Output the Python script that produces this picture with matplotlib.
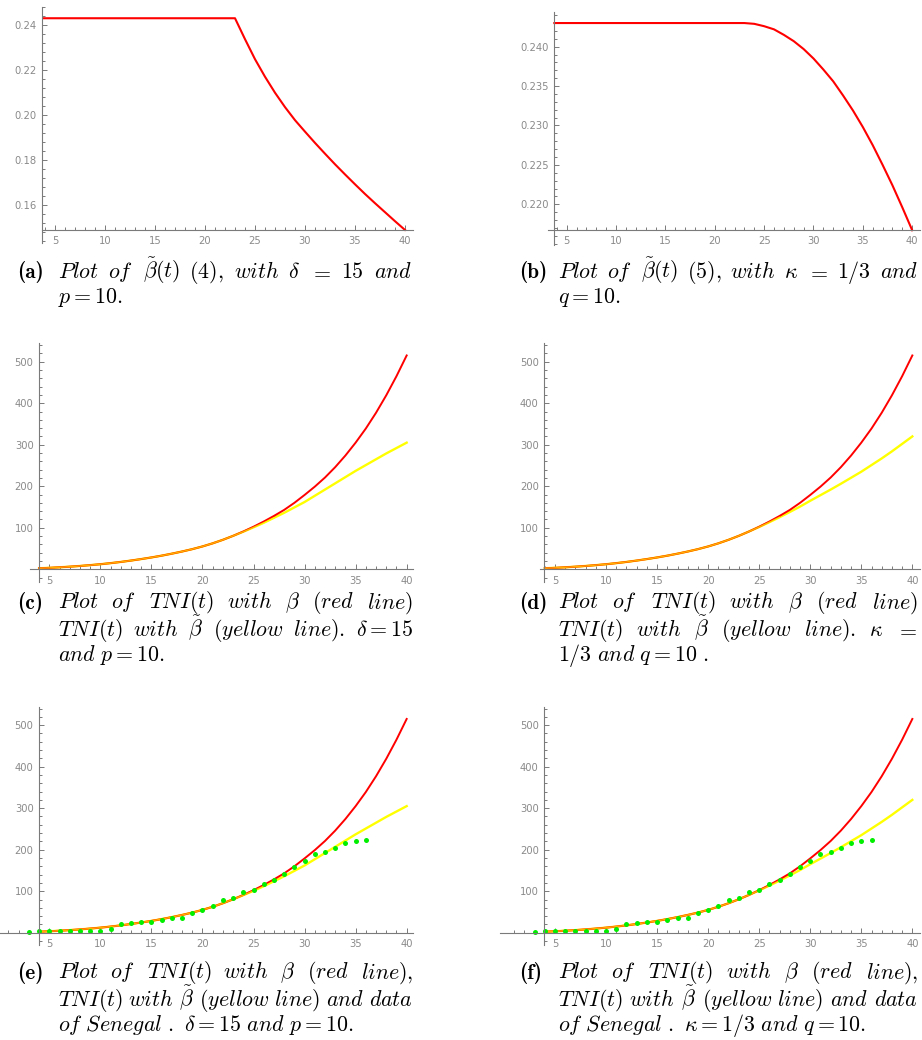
import numpy as np
import matplotlib
matplotlib.use('Agg')
import matplotlib.pyplot as plt
from matplotlib.ticker import FixedLocator, FormatStrFormatter

plt.rcParams['mathtext.fontset'] = 'cm'
plt.rcParams['font.family'] = ['DejaVu Sans']

W, H = 922, 1040

# ---------------- data ----------------
# beta tilde, panel (a): delta = 15, p = 10
t_beta = [3.75, 23, 24, 25, 26, 27, 28, 29, 30, 31, 32, 33, 34, 35, 36, 37, 38, 39, 40]
beta_a = [0.2430, 0.2430, 0.2337, 0.2248, 0.2170, 0.2099, 0.2035, 0.1977, 0.1926,
          0.1876, 0.1828, 0.1781, 0.1736, 0.1692, 0.1649, 0.1608, 0.1568, 0.1528, 0.1489]
# beta tilde, panel (b): kappa = 1/3, q = 10
beta_b = [0.2430, 0.2430, 0.2429, 0.2426, 0.2422, 0.2415, 0.2407, 0.2397, 0.2385,
          0.2371, 0.2356, 0.2338, 0.2319, 0.2298, 0.2275, 0.2250, 0.2224, 0.2196, 0.2167]

# TNI(t) curves
t_tni = [4, 5, 6, 7, 8, 9, 10, 11, 12, 13, 14, 15, 16, 17, 18, 19, 20, 21, 22,
         23, 24, 25, 26, 27, 28, 29, 30, 31, 32, 33, 34, 35, 36, 37, 38, 39, 40]
tni_red = [2.5, 3.5, 4.8, 6.3, 8.0, 10.0, 12.2, 14.8, 17.7, 21.0, 24.6, 28.5, 32.8,
           37.6, 42.8, 48.5, 55, 62.5, 71, 80.5, 91, 102.5, 115, 128.5, 143, 160,
           179, 199, 221, 246, 274, 305, 339, 377, 419, 465, 515]
tni_yellow_delta = [2.5, 3.5, 4.8, 6.3, 8.0, 10.0, 12.2, 14.8, 17.7, 21.0, 24.6, 28.5,
                    32.8, 37.6, 42.8, 48.5, 55, 62.5, 71, 80.5, 90.5, 101, 112, 124,
                    136, 149, 162, 177, 192, 207, 222, 237, 251, 265, 279, 292, 305]
tni_yellow_kappa = [2.5, 3.5, 4.8, 6.3, 8.0, 10.0, 12.2, 14.8, 17.7, 21.0, 24.6, 28.5,
                    32.8, 37.6, 42.8, 48.5, 55, 62.5, 71, 80.5, 91, 102, 113.5, 125.5,
                    138, 151, 165, 178.5, 192, 206, 220.5, 235, 251, 267, 284, 302, 320]

# data of Senegal
t_data = [3, 4, 5, 6, 7, 8, 9, 10, 11, 12, 13, 14, 15, 16, 17, 18, 19, 20, 21,
          22, 23, 24, 25, 26, 27, 28, 29, 30, 31, 32, 33, 34, 35, 36]
senegal = [1, 4, 4, 3, 3, 3, 3, 3, 9, 20, 23, 25, 25, 31, 35, 35, 47, 55, 65,
           79, 84, 97, 103, 117, 127, 141, 159, 173, 189, 194, 205, 215, 221, 223]

x_major = [5, 10, 15, 20, 25, 30, 35, 40]
yticks_a = [0.16, 0.18, 0.20, 0.22, 0.24]
yticks_b = [0.220, 0.225, 0.230, 0.235, 0.240]
yticks_tni = [100, 200, 300, 400, 500]

RED = '#ff0000'
YEL = '#ffff00'
GRN = '#00ee00'
AX = '#7a7a7a'
LAB = '#8a8a8a'

fig = plt.figure(figsize=(W / 100, H / 100), dpi=100)


def make_ax(L, R, T, B, xlim, ylim, yspine, xspine, yticks, ystep, fmt):
    ax = fig.add_axes([L / W, 1 - B / H, (R - L) / W, (B - T) / H])
    ax.set_xlim(*xlim)
    ax.set_ylim(*ylim)
    for s in ['top', 'right']:
        ax.spines[s].set_visible(False)
    ax.spines['left'].set_position(('data', yspine))
    ax.spines['bottom'].set_position(('data', xspine))
    for s in ['left', 'bottom']:
        ax.spines[s].set_color(AX)
        ax.spines[s].set_linewidth(0.8)
    ax.xaxis.set_major_locator(FixedLocator(x_major))
    xmin = [v for v in range(int(np.ceil(xlim[0])), 41) if v % 5 != 0]
    ax.xaxis.set_minor_locator(FixedLocator(xmin))
    ax.yaxis.set_major_locator(FixedLocator(yticks))
    k0 = int(np.ceil(ylim[0] / ystep - 1e-9))
    k1 = int(np.floor(ylim[1] / ystep + 1e-9))
    ymin = [k * ystep for k in range(k0, k1 + 1)]
    ax.yaxis.set_minor_locator(FixedLocator(ymin))
    ax.yaxis.set_major_formatter(FormatStrFormatter(fmt))
    ax.tick_params(which='both', direction='in', color=AX, width=0.7,
                   labelsize=7.2, labelcolor=LAB)
    ax.tick_params(which='major', length=3.6)
    ax.tick_params(which='minor', length=2.0)
    ax.tick_params(axis='y', pad=4)
    ax.tick_params(axis='x', pad=4.5)
    ax.patch.set_alpha(0)
    return ax


# (a)
ax = make_ax(41.7, 413, 6.7, 242.7, (3.67, 40.8), (0.14324, 0.24813), 3.73, 0.1489,
             yticks_a, 0.004, '%.2f')
ax.plot(t_beta, beta_a, color=RED, lw=1.5)
# (b)
ax = make_ax(548.3, 920, 11.7, 245, (3.136, 40.79), (0.21483, 0.24444), 3.744, 0.21674,
             yticks_b, 0.001, '%.3f')
ax.plot(t_beta, beta_b, color=RED, lw=1.5)
# (c)
ax = make_ax(30, 413, 343, 581.7, (3.11, 40.62), (-29.9, 545), 4.0, 0,
             yticks_tni, 20, '%d')
ax.plot(t_tni, tni_yellow_delta, color=YEL, lw=1.7)
ax.plot(t_tni, tni_red, color=RED, lw=1.4)
ax.plot(t_tni[:24], tni_yellow_delta[:24], color=YEL, lw=1.0, alpha=0.7)
# (d)
ax = make_ax(540, 920, 343, 581.7, (3.53, 40.75), (-29.9, 545), 3.95, 0,
             yticks_tni, 20, '%d')
ax.plot(t_tni, tni_yellow_kappa, color=YEL, lw=1.7)
ax.plot(t_tni, tni_red, color=RED, lw=1.4)
ax.plot(t_tni[:24], tni_yellow_kappa[:24], color=YEL, lw=1.0, alpha=0.7)
# (e)
ax = make_ax(0, 413, 706.5, 945, (0.17, 40.62), (-29.6, 545), 4.0, 0,
             yticks_tni, 20, '%d')
ax.plot(t_tni, tni_yellow_delta, color=YEL, lw=1.7)
ax.plot(t_tni, tni_red, color=RED, lw=1.4)
ax.plot(t_tni[:24], tni_yellow_delta[:24], color=YEL, lw=1.0, alpha=0.7)
ax.plot(t_data, senegal, 'o', color=GRN, ms=3.6, mec='none', clip_on=False)
# (f)
ax = make_ax(500, 920, 706.5, 945, (-0.39, 40.75), (-29.6, 545), 3.95, 0,
             yticks_tni, 20, '%d')
ax.plot(t_tni, tni_yellow_kappa, color=YEL, lw=1.7)
ax.plot(t_tni, tni_red, color=RED, lw=1.4)
ax.plot(t_tni[:24], tni_yellow_kappa[:24], color=YEL, lw=1.0, alpha=0.7)
ax.plot(t_data, senegal, 'o', color=GRN, ms=3.6, mec='none', clip_on=False)

# ---------------- captions ----------------
FS = 15.8
renderer = fig.canvas.get_renderer()


def place_line(tokens, x0, x1, y, justify=True):
    if isinstance(tokens, str):
        tokens = [tokens]
    texts = [fig.text(0, 0, tk, fontsize=FS, va='baseline', ha='left') for tk in tokens]
    widths = [t.get_window_extent(renderer=renderer).width for t in texts]
    if justify and len(tokens) > 1:
        gap = (x1 - x0 - sum(widths)) / (len(tokens) - 1)
    else:
        gap = FS * 0.33 * 100 / 72
    x = x0
    for t, w in zip(texts, widths):
        t.set_position((x / W, 1 - y / H))
        x += w + gap


def caption(label, lines, xl, x0, x1, ys):
    fig.text(xl / W, 1 - ys[0] / H, label, fontsize=FS - 0.5, va='baseline', ha='left',
             family='cmb10')
    for i, (toks, just) in enumerate(lines):
        place_line(toks, x0, x1, ys[i], just)


A1 = [r"$Plot$", r"$of$", r"$\tilde{\beta}(t)$", r"$(4),$", r"$with$", r"$\delta$",
      r"$=$", r"$15$", r"$and$"]
B1 = [r"$Plot$", r"$of$", r"$\tilde{\beta}(t)$", r"$(5),$", r"$with$", r"$\kappa$",
      r"$=$", r"$1/3$", r"$and$"]
C1 = [r"$Plot$", r"$of$", r"$TNI(t)$", r"$with$", r"$\beta$", r"$(red$", r"$line)$"]
C2 = [r"$TNI(t)$", r"$with$", r"$\tilde{\beta}$", r"$(yellow$", r"$line).$",
      r"$\delta=15$"]
D2 = [r"$TNI(t)$", r"$with$", r"$\tilde{\beta}$", r"$(yellow$", r"$line).$",
      r"$\kappa$", r"$=$"]
E1 = [r"$Plot$", r"$of$", r"$TNI(t)$", r"$with$", r"$\beta$", r"$(red$", r"$line),$"]
E2 = [r"$TNI(t)$", r"$with$", r"$\tilde{\beta}$", r"$(yellow\ line)$", r"$and$",
      r"$data$"]

caption("(a)", [(A1, True), (r"$p=10.$", False)], 17, 58, 412, [278, 303])
caption("(b)", [(B1, True), (r"$q=10.$", False)], 519, 558, 918, [278, 303])
caption("(c)", [(C1, True), (C2, True), (r"$and\ p=10.$", False)],
        17, 58, 413, [608.5, 636, 661])
caption("(d)", [(C1, True), (D2, True), (r"$1/3\ and\ q=10\ .$", False)],
        519, 558, 918, [608.5, 636, 661])
caption("(e)", [(E1, True), (E2, True),
                (r"$of\ Senegal\ .\ \delta=15\ and\ p=10.$", False)],
        17, 58, 413, [978.5, 1006, 1031])
caption("(f)", [(E1, True), (E2, True),
                (r"$of\ Senegal\ .\ \kappa=1/3\ and\ q=10.$", False)],
        519, 558, 918, [978.5, 1006, 1031])

fig.savefig('out.png', dpi=100)
